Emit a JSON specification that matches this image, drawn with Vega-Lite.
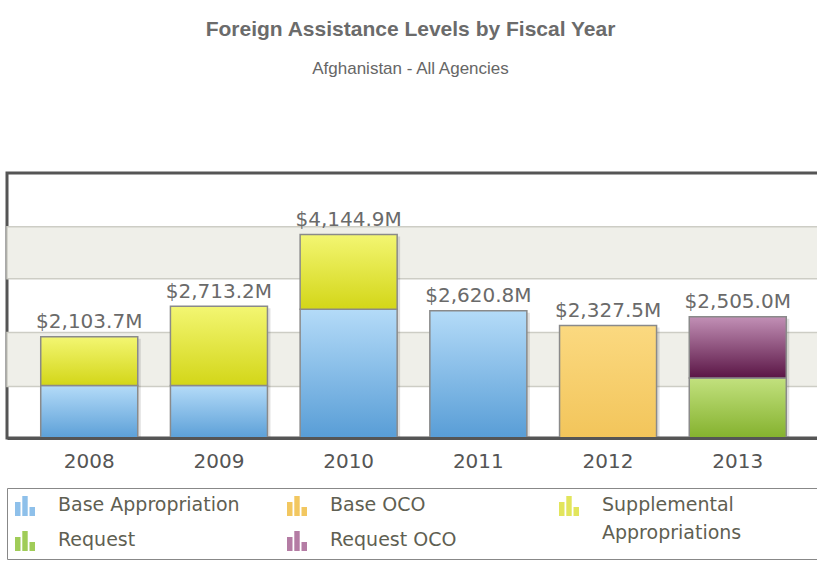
{
  "$schema": "https://vega.github.io/schema/vega-lite/v6.json",
  "width": 813,
  "height": 265,
  "autosize": {"type": "none"},
  "padding": {"left": 7, "top": 173, "right": -3, "bottom": 124},
  "background": "white",
  "title": {
    "text": "Foreign Assistance Levels by Fiscal Year",
    "subtitle": "Afghanistan - All Agencies",
    "anchor": "middle",
    "font": "Liberation Sans",
    "fontSize": 21,
    "fontWeight": "bold",
    "color": "#6b6b6b",
    "subtitleFont": "Liberation Sans",
    "subtitleFontSize": 17,
    "subtitleColor": "#666666",
    "subtitlePadding": 21,
    "offset": 96,
    "dx": -3
  },
  "datasets": {
    "funding": [
      {"year": "2008", "series": "Base Appropriation", "value": 1132.0},
      {"year": "2008", "series": "Supplemental Appropriations", "value": 971.7},
      {"year": "2009", "series": "Base Appropriation", "value": 1132.0},
      {"year": "2009", "series": "Supplemental Appropriations", "value": 1581.2},
      {"year": "2010", "series": "Base Appropriation", "value": 2655.0},
      {"year": "2010", "series": "Supplemental Appropriations", "value": 1489.9},
      {"year": "2011", "series": "Base Appropriation", "value": 2620.8},
      {"year": "2012", "series": "Base OCO", "value": 2327.5},
      {"year": "2013", "series": "Request", "value": 1279.5},
      {"year": "2013", "series": "Request OCO", "value": 1225.5}
    ],
    "bands": [
      {"lo": 1112, "hi": 2188},
      {"lo": 3259, "hi": 4301}
    ]
  },
  "layer": [
    {
      "data": {"name": "bands"},
      "mark": {"type": "rect", "fill": "#efefe9", "stroke": "#cdcdc5", "strokeWidth": 1.5},
      "encoding": {
        "y": {"field": "lo", "type": "quantitative", "scale": {"domain": [84, 5371], "nice": false, "zero": false}, "axis": null},
        "y2": {"field": "hi"}
      }
    },
    {
      "data": {"name": "funding"},
      "mark": {"type": "bar", "color": "#000000", "opacity": 0.12, "xOffset": 3, "yOffset": 2, "clip": true},
      "encoding": {
        "x": {"field": "year", "type": "ordinal"},
        "y": {"aggregate": "sum", "field": "value", "type": "quantitative"}
      }
    },
    {
      "data": {"name": "funding"},
      "mark": {"type": "bar", "stroke": "#8a8a8a", "strokeWidth": 1.5, "clip": true},
      "encoding": {
        "x": {
          "field": "year",
          "type": "ordinal",
          "scale": {"paddingInner": 0.252, "paddingOuter": 0.26},
          "axis": {
            "title": null,
            "labelAngle": 0,
            "labelAlign": "center",
            "ticks": false,
            "domainColor": "#555555",
            "domainWidth": 3,
            "labelFont": "DejaVu Sans",
            "labelFontSize": 20,
            "labelColor": "#555555",
            "labelPadding": 33,
            "zindex": 1
          }
        },
        "y": {"field": "value", "type": "quantitative", "stack": "zero"},
        "order": {"field": "series", "sort": "ascending"},
        "fill": {
          "field": "series",
          "type": "nominal",
          "scale": {
            "domain": ["Base Appropriation", "Base OCO", "Supplemental Appropriations", "Request", "Request OCO"],
            "range": ["#8ec0ea", "#f2c760", "#e2e55c", "#a0cc58", "#b47ca4"]
          },
          "legend": {
            "title": null,
            "orient": "bottom",
            "direction": "horizontal",
            "columns": 3,
            "gridAlign": "none",
            "offset": 17,
            "padding": 8,
            "strokeColor": "#888888",
            "fillColor": "white",
            "symbolType": "M-1,1V-0.4H-0.45V1Z M-0.27,1V-1H0.27V1Z M0.45,1V0.1H1V1Z M26.1,0",
            "symbolSize": 400,
            "symbolStrokeWidth": 0,
            "labelFont": "DejaVu Sans",
            "labelFontSize": 19,
            "labelColor": "#5f5f52",
            "labelOffset": 23,
            "labelLimit": 400,
            "labelBaseline": "top",
            "labelExpr": "datum.label === 'Supplemental Appropriations' ? ['Supplemental', 'Appropriations'] : (datum.label === 'Base Appropriation' || datum.label === 'Base OCO') ? [datum.label, ''] : datum.label",
            "columnPadding": 1,
            "rowPadding": -12
          },
          "condition": [
            {"test": "datum.series === 'Base Appropriation'", "value": {"gradient": "linear", "x1": 0, "y1": 0, "x2": 0, "y2": 1, "stops": [{"offset": 0, "color": "#b4dbf8"}, {"offset": 1, "color": "#559bd5"}]}},
            {"test": "datum.series === 'Supplemental Appropriations'", "value": {"gradient": "linear", "x1": 0, "y1": 0, "x2": 0, "y2": 1, "stops": [{"offset": 0, "color": "#f3f672"}, {"offset": 1, "color": "#d3d618"}]}},
            {"test": "datum.series === 'Base OCO'", "value": {"gradient": "linear", "x1": 0, "y1": 0, "x2": 0, "y2": 1, "stops": [{"offset": 0, "color": "#fbd980"}, {"offset": 1, "color": "#f2c459"}]}},
            {"test": "datum.series === 'Request'", "value": {"gradient": "linear", "x1": 0, "y1": 0, "x2": 0, "y2": 1, "stops": [{"offset": 0, "color": "#c2e17e"}, {"offset": 1, "color": "#80ae28"}]}},
            {"test": "datum.series === 'Request OCO'", "value": {"gradient": "linear", "x1": 0, "y1": 0, "x2": 0, "y2": 1, "stops": [{"offset": 0, "color": "#c290b6"}, {"offset": 1, "color": "#5a1545"}]}}
          ]
        }
      }
    },
    {
      "data": {"name": "funding"},
      "transform": [
        {"aggregate": [{"op": "sum", "field": "value", "as": "total"}], "groupby": ["year"]},
        {"calculate": "'$' + format(datum.total, ',.1f') + 'M'", "as": "label"}
      ],
      "mark": {"type": "text", "baseline": "alphabetic", "dy": -8.5, "font": "DejaVu Sans", "fontSize": 20, "color": "#6a6a6a"},
      "encoding": {
        "x": {"field": "year", "type": "ordinal"},
        "y": {"field": "total", "type": "quantitative"},
        "text": {"field": "label"}
      }
    }
  ],
  "config": {
    "view": {"stroke": "#555555", "strokeWidth": 3},
    "style": {"guide-label": {"dy": -10, "lineHeight": 28}}
  }
}
